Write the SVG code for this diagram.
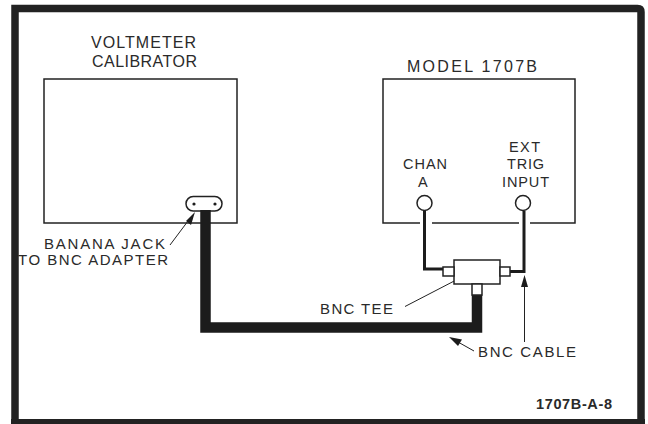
<svg xmlns="http://www.w3.org/2000/svg" width="648" height="424" viewBox="0 0 648 424">
<style>
.t{font-family:"Liberation Sans",Arial,sans-serif;font-size:15px;fill:#2a2a2a}
.u{font-size:16px}
.s{font-size:14.500px}
.b{fill:none;stroke:#222;stroke-width:1.500}
.c{fill:none;stroke:#1c1c1c;stroke-linejoin:miter}
.l{fill:none;stroke:#222;stroke-width:1}
.a{fill:#1c1c1c}
.p{fill:#fff;stroke:#222;stroke-width:1.500}
</style>
<rect width="648" height="424" fill="#fff"/>
<path d="M15 424V8.500H637.500Q641 8.500 641 12V424" fill="none" stroke="#222" stroke-width="7.500"/>
<path d="M11 421.500H645" fill="none" stroke="#222" stroke-width="5"/>
<g id="voltmeter"><rect class="b" x="44" y="79" width="193" height="144"/><text class="t u" x="91" y="47.500" textLength="105">VOLTMETER</text><text class="t u" x="92" y="67" textLength="105">CALIBRATOR</text></g>
<g id="model"><path class="b" d="M420 223H383V79H575V223H530M519 223H432"/><text class="t u" x="407" y="72" textLength="130">MODEL 1707B</text></g>
<g id="adapter"><rect class="p" x="186" y="196.500" width="36" height="14.500" rx="7.200"/><circle class="a" cx="194" cy="204" r="1.600"/><circle class="a" cx="215" cy="204" r="1.600"/></g>
<g id="chan-a"><circle class="p" cx="424.500" cy="203" r="7.500"/><text class="t s" x="403" y="168.500" textLength="44">CHAN</text><text class="t s" x="418" y="186.500">A</text></g>
<g id="ext-trig"><circle class="p" cx="523" cy="203" r="7.500"/><text class="t s" x="509" y="152" textLength="31">EXT</text><text class="t s" x="507" y="169" textLength="37">TRIG</text><text class="t s" x="502" y="186.500" textLength="47">INPUT</text></g>
<g id="connectors">
<path class="c" stroke-width="10.500" d="M205.500 210V327.500H477V295"/>
<path class="c" stroke-width="3" d="M424.500 211V269H443"/>
<path class="c" stroke-width="3" d="M510 271.500H524V211"/>
<path class="l" d="M170 245L188 221"/><path class="a" d="M195 212L186 221L191 225Z"/>
<path class="l" d="M405 306.500L460 278"/><path class="a" d="M472 274L458 276.500L461 283Z"/>
<path class="l" d="M474 351L458 342"/><path class="a" d="M449 337L462 339.500L458 346Z"/>
<path class="l" d="M524.500 342V285"/><path class="a" d="M524.500 275L521 287H528Z"/>
</g>
<g id="tee"><rect class="p" x="454" y="260" width="46" height="24"/><rect class="p" x="443" y="267" width="11" height="9"/><rect class="p" x="500" y="267" width="10" height="9"/><rect class="p" x="472" y="284" width="10" height="11"/></g>
<g id="labels"><text class="t" x="44" y="249" textLength="121">BANANA JACK</text><text class="t" x="18" y="265" textLength="150">TO BNC ADAPTER</text><text class="t" x="320" y="313.500" textLength="73">BNC TEE</text><text class="t" x="478" y="357" textLength="98">BNC CABLE</text><text x="536" y="409" textLength="76" style="font-family:'Liberation Sans',Arial,sans-serif;font-size:14.500px;font-weight:bold;fill:#2a2a2a">1707B-A-8</text></g>
</svg>
